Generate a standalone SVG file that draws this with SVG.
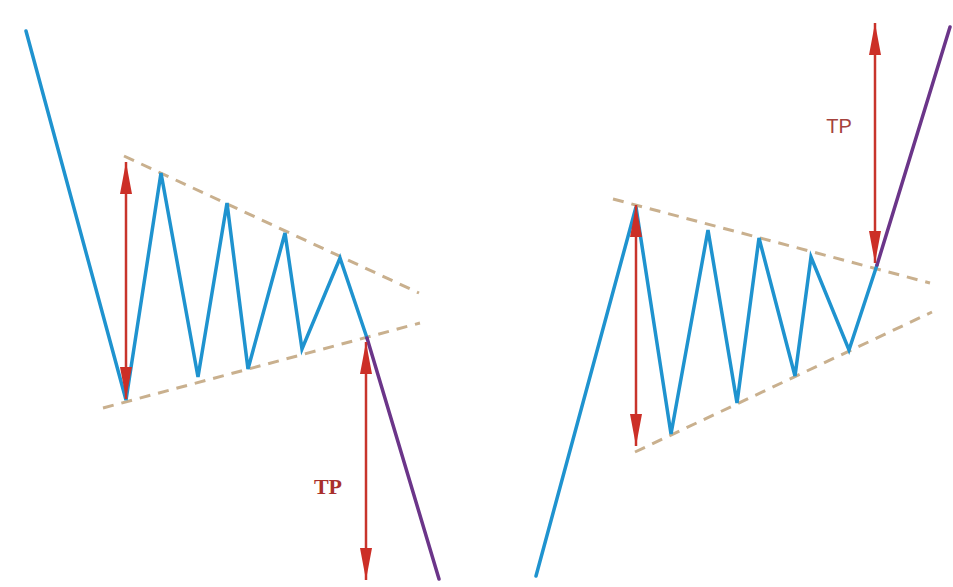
<svg xmlns="http://www.w3.org/2000/svg" width="953" height="587" viewBox="0 0 953 587">
<style>
.price{fill:none;stroke:#1f93cf;stroke-width:3.5;stroke-linejoin:miter;stroke-linecap:round}
.brk{fill:none;stroke:#6b3589;stroke-width:3.5;stroke-linecap:round}
.trend{fill:none;stroke:#c9b08e;stroke-width:3;stroke-dasharray:11 8}
.meas{stroke:#c8342c;stroke-width:2.5;marker-start:url(#ah);marker-end:url(#ah)}
.tp{text-anchor:middle}
</style>
<defs>
<marker id="ah" markerUnits="userSpaceOnUse" viewBox="0 -6 32 12" refX="32" refY="0" markerWidth="32" markerHeight="12" orient="auto-start-reverse">
<path d="M0,-6 L32,0 L0,6 z" fill="#cc2f27"/>
</marker>
</defs>
<rect width="953" height="587" fill="#ffffff"/>
<g id="left-pattern">
<g id="left-trendlines">
<line class="trend" x1="124" y1="156" x2="419" y2="293"/>
<line class="trend" x1="103" y1="408" x2="420" y2="323"/>
</g>
<polyline id="left-price" class="price" points="26,31 126,400 161,173 198,377 227,203 248,369 285,233 302,349 340,258 367,338"/>
<line id="left-breakout" class="brk" x1="367" y1="338" x2="439" y2="579"/>
</g>
<g id="right-pattern">
<g id="right-trendlines">
<line class="trend" x1="613" y1="199" x2="930" y2="283"/>
<line class="trend" x1="635" y1="452" x2="932" y2="312"/>
</g>
<polyline id="right-price" class="price" points="536,576 636,207 671,434 708,230 737,403 759,238 795,376 811,257 849,350 877,265"/>
<line id="right-breakout" class="brk" x1="877" y1="265" x2="950" y2="27"/>
</g>
<g id="connectors">
<line class="meas" x1="126" y1="162" x2="126" y2="399"/>
<line class="meas" x1="366" y1="342" x2="366" y2="580"/>
<line class="meas" x1="636" y1="205" x2="636" y2="446"/>
<line class="meas" x1="875" y1="23" x2="875" y2="263"/>
</g>
<g id="labels">
<text class="tp" x="328" y="494" font-family="'Liberation Serif', serif" font-size="22" font-weight="bold" fill="#a9302b">TP</text>
<text class="tp" x="839" y="133" font-family="'Liberation Sans', sans-serif" font-size="20" fill="#a5433d">TP</text>
</g>
</svg>
